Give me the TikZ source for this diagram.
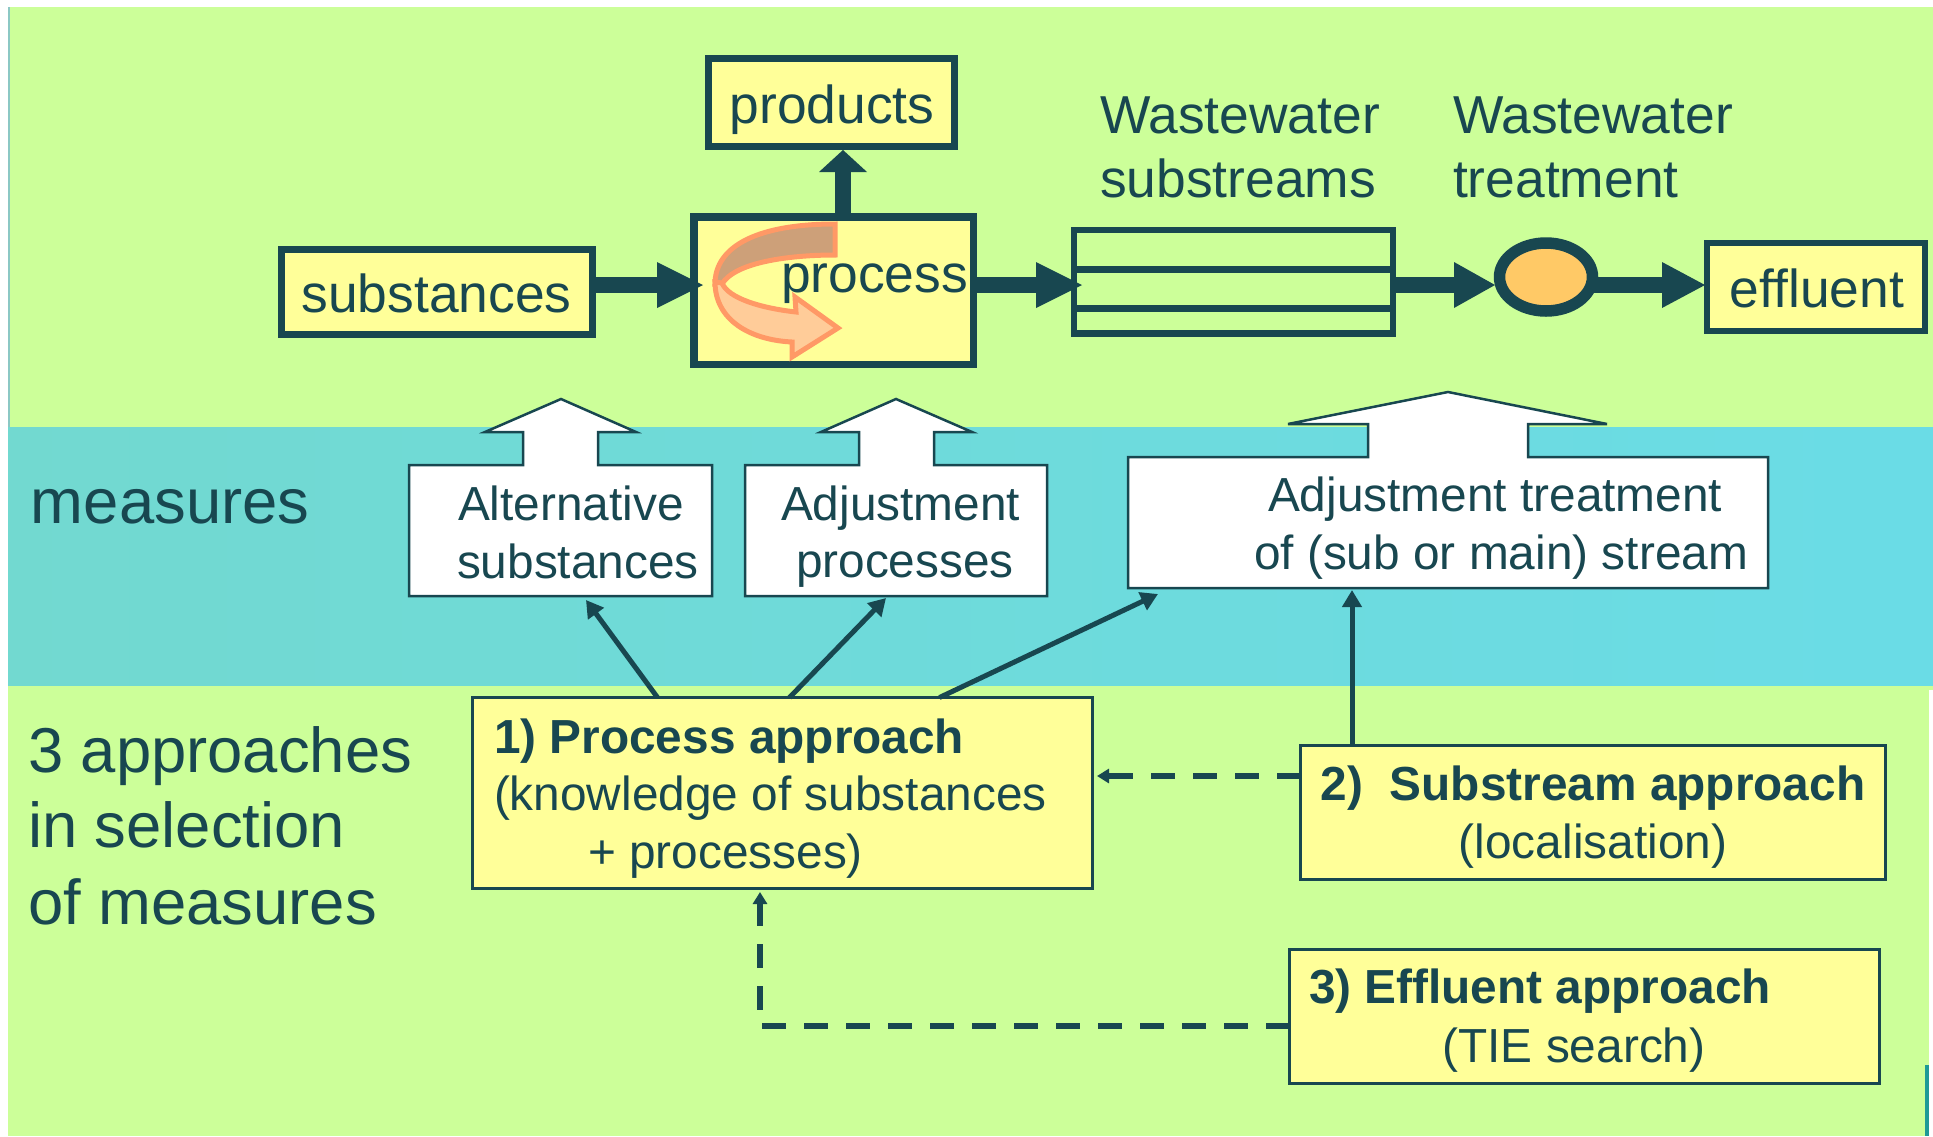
\documentclass[tikz,border=0pt]{standalone}
\usepackage{fontspec}
\setmainfont{Liberation Sans}
\usetikzlibrary{arrows.meta,calc,shapes.geometric}

\definecolor{ink}{HTML}{184750}
\definecolor{leaf}{HTML}{CCFF99}
\definecolor{note}{HTML}{FFFF99}
\definecolor{bandL}{HTML}{72D9D0}
\definecolor{bandR}{HTML}{6ADCE6}
\definecolor{pond}{HTML}{FFC966}
\definecolor{ember}{HTML}{FF9966}
\definecolor{emberdark}{HTML}{CDA079}
\definecolor{emberlight}{HTML}{FFCC99}
\definecolor{edgeline}{HTML}{8CC8C4}
\definecolor{edgeteal}{HTML}{1E9A96}

\newcommand\fsTop{\fontsize{26.7pt}{30pt}\selectfont}
\newcommand\fsMid{\fontsize{23.9pt}{28pt}\selectfont}
\newcommand\fsBig{\fontsize{31.7pt}{36pt}\selectfont}

\begin{document}
\begin{tikzpicture}[x=0.5pt,y=-0.5pt,
  txt/.style={inner sep=0pt, outer sep=0pt, text=ink},
  toptxt/.style={txt, font=\fsTop},
  midtxt/.style={txt, font=\fsMid},
  boldtxt/.style={txt, font=\fsMid\bfseries},
  bigtxt/.style={txt, font=\fsBig},
  flowbox/.style={draw=ink, fill=note, line width=3.5pt, inner sep=0pt, outer sep=0pt},
  appbox/.style={draw=ink, fill=note, line width=1.5pt, inner sep=0pt, outer sep=0pt},
  anchorbox/.style={inner sep=0pt, outer sep=0pt},
  blockarrow/.style={draw=ink, fill=white, line width=1.25pt, line join=miter},
  link/.style={draw=ink, line width=2.5pt, -{Triangle[length=8.5pt,width=9.5pt]}},
  hint/.style={draw=ink, line width=2.75pt, dash pattern=on 12pt off 9pt,
    -{Triangle[length=6pt,width=7pt]}},
  ribbon/.style={draw=ember, line width=2.5pt, line join=miter},
]
\useasboundingbox (0,0) rectangle (1933,1136);

% ---------- background ----------
\fill[white] (0,0) rectangle (1933,1136);
\fill[leaf] (8,7) rectangle (1933,1136);
\shade[left color=bandL, right color=bandR] (8,427) rectangle (1933,685);
\draw[edgeline, line width=1pt] (9,7) -- (9,427);
\fill[white] (1929,690) rectangle (1933,1136);
\fill[edgeteal] (1925,1065) rectangle (1928.5,1136);

% ---------- process chain ----------
\node[flowbox, minimum width=155.5pt, minimum height=42.5pt] (sub) at (437,292) {};
\node[toptxt, anchor=base] at (436.5,312) {substances};

\node[flowbox, minimum width=123pt, minimum height=44pt] (prod) at (831.5,102.5) {};
\node[toptxt, anchor=base] at (832,123) {products};

\node[flowbox, line width=3.75pt, minimum width=139.75pt, minimum height=73.75pt] (proc) at (833.5,290.5) {};

% recycling ribbon inside the process box
\filldraw[ribbon, fill=emberdark]
  (835,224) -- (835,255) .. controls (790,255) and (735,262) .. (722,284)
  -- (715,284) .. controls (715,245) and (760,224) .. (835,224) -- cycle;
\filldraw[ribbon, fill=emberlight]
  (715,282) .. controls (715,320) and (750,340) .. (792,342)
  -- (792,357) -- (838,328) -- (795,297) -- (796,312)
  .. controls (760,308) and (728,298) .. (722,283) -- cycle;
\node[toptxt, anchor=base west] at (781,292) {process};

% wastewater substreams
\node[draw=ink, line width=3.25pt, minimum width=159.5pt, minimum height=51.75pt,
      inner sep=0pt, outer sep=0pt] (streams) at (1233.5,281.75) {};
\draw[ink, line width=3.5pt] (streams.west |- 0,269.5) -- (streams.east |- 0,269.5);
\draw[ink, line width=3.5pt] (streams.west |- 0,308) -- (streams.east |- 0,308);
\node[toptxt, anchor=base west] at (1100,133) {Wastewater};
\node[toptxt, anchor=base west] at (1100,197) {substreams};

% treatment
\node[ellipse, draw=ink, fill=pond, line width=5.75pt, minimum width=46.5pt,
      minimum height=34pt, inner sep=0pt, outer sep=0pt] (pond) at (1546,277) {};
\node[toptxt, anchor=base west] at (1453,133) {Wastewater};
\node[toptxt, anchor=base west] at (1453,197) {treatment};

% effluent
\node[flowbox, line width=3pt, minimum width=109pt, minimum height=44pt] (eff) at (1816,287) {};
\node[toptxt, anchor=base] at (1817,307) {effluent};

% thick flow arrows
\fill[ink] (sub.east |- 0,277) rectangle (657,293);
\fill[ink] (657,262) -- (703,285) -- (657,308) -- cycle;
\fill[ink] (proc.east |- 0,277) rectangle (1036,293);
\fill[ink] (1036,262) -- (1082,285) -- (1036,308) -- cycle;
\fill[ink] (streams.east |- 0,277) rectangle (1454,293);
\fill[ink] (1454,262) -- (1495,285) -- (1454,308) -- cycle;
\fill[ink] (pond.east |- 0,277) rectangle (1662,293);
\fill[ink] (1662,262) -- (1705,285) -- (1662,308) -- cycle;
\fill[ink] (proc.north -| 835,0) rectangle (851,172);
\fill[ink] (819,172) -- (843,150) -- (867,172) -- cycle;

% ---------- measures ----------
\node[bigtxt, anchor=base west] at (31,523) {measures};

\node[anchorbox, minimum width=151.5pt, minimum height=65.5pt] (alt) at (560.5,530.5) {};
\draw[blockarrow] (409,465) -- (523,465) -- (523,432) -- (485,432) -- (561,399)
  -- (636,432) -- (598,432) -- (598,465) -- (712,465) -- (712,596) -- (409,596) -- cycle;
\node[midtxt, anchor=base west] at (458,520) {Alternative};
\node[midtxt, anchor=base west] at (457,578) {substances};

\node[anchorbox, minimum width=151pt, minimum height=65.5pt] (adjp) at (896,530.5) {};
\draw[blockarrow] (745,465) -- (859,465) -- (859,432) -- (821,432) -- (896,399)
  -- (972,432) -- (934,432) -- (934,465) -- (1047,465) -- (1047,596) -- (745,596) -- cycle;
\node[midtxt, anchor=base west] at (781,520) {Adjustment};
\node[midtxt, anchor=base west] at (796,577) {processes};

\node[anchorbox, minimum width=320pt, minimum height=65.5pt] (adjt) at (1448,522.5) {};
\draw[blockarrow] (1128,457) -- (1368,457) -- (1368,424) -- (1288,424) -- (1448,392)
  -- (1607,424) -- (1528,424) -- (1528,457) -- (1768,457) -- (1768,588) -- (1128,588) -- cycle;
\node[midtxt, anchor=base west] at (1268,511) {Adjustment treatment};
\node[midtxt, anchor=base west] at (1254,569) {of (sub or main) stream};

% ---------- approaches ----------
\node[bigtxt, anchor=base west] at (28,772) {3 approaches};
\node[bigtxt, anchor=base west] at (28,847) {in selection};
\node[bigtxt, anchor=base west] at (28,924) {of measures};

\node[appbox, minimum width=310pt, minimum height=95.5pt] (pa) at (782.5,793) {};
\node[boldtxt, anchor=base west] at (494,753) {1) Process approach};
\node[midtxt, anchor=base west] at (494,810) {(knowledge of substances};
\node[midtxt, anchor=base west] at (588,868) {+ processes)};

\node[appbox, minimum width=292.5pt, minimum height=67pt] (sa) at (1593,812.5) {};
\node[boldtxt, anchor=base] at (1593,800) {2)~ Substream approach};
\node[midtxt, anchor=base] at (1593,858) {(localisation)};

\node[appbox, minimum width=295pt, minimum height=67pt] (ea) at (1584.5,1016.5) {};
\node[boldtxt, anchor=base west] at (1309,1003) {3) Effluent approach};
\node[midtxt, anchor=base] at (1574,1062) {(TIE search)};

% ---------- links ----------
\coordinate (t1) at (586,600);
\coordinate (t2) at (886,598);
\coordinate (t3) at (1158,594);
\coordinate (t4) at (1352,590);
\coordinate (d1) at (1097,776);
\coordinate (d2) at (760,892);

\draw[link] ($(pa.north west)+(185,0)$) -- (t1);
\draw[link] ($(pa.north west)+(317,0)$) -- (t2);
\draw[link] ($(pa.north west)+(467,0)$) -- (t3);
\draw[link] (sa.north -| t4) -- (t4);

\draw[hint] (sa.west |- d1) -- (d1);
\draw[hint] (ea.west |- 0,1026) -| (d2);
\end{tikzpicture}
\end{document}
